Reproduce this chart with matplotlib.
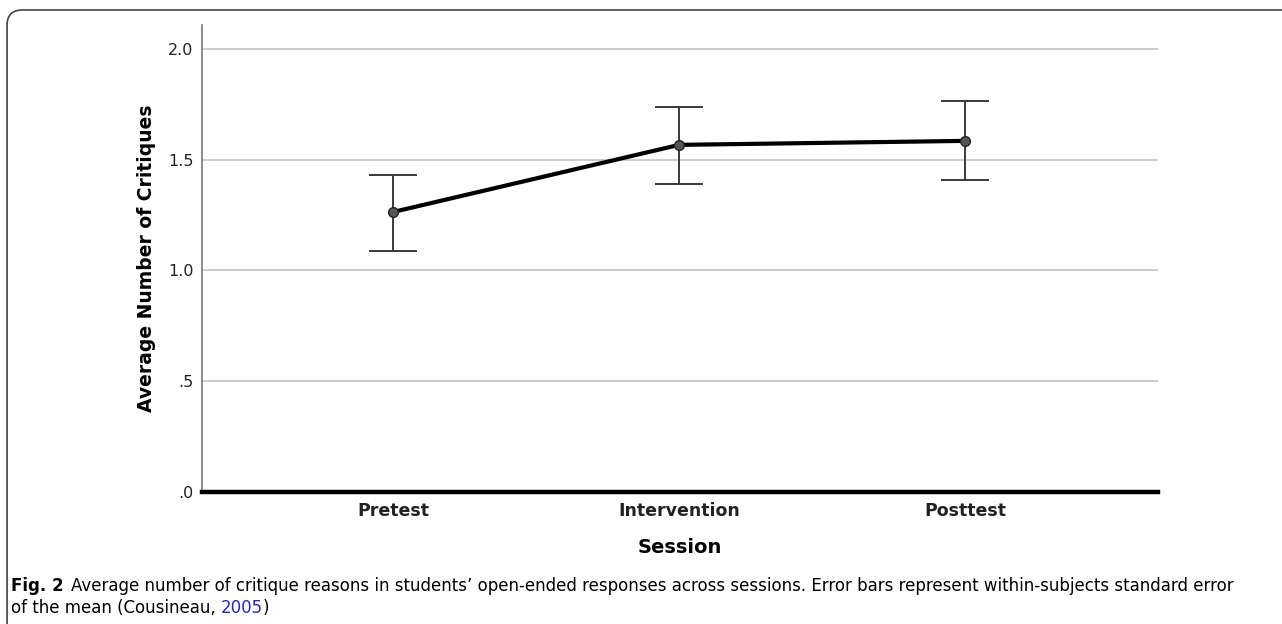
import matplotlib.pyplot as plt
from matplotlib.patches import FancyBboxPatch

sessions = ['Pretest', 'Intervention', 'Posttest']
means = [1.264, 1.567, 1.585]
upper = [1.43, 1.738, 1.765]
lower = [1.09, 1.39, 1.41]

err_lo = [m - l for m, l in zip(means, lower)]
err_hi = [u - m for m, u in zip(means, upper)]

fig = plt.figure(figsize=(12.82, 6.24), dpi=100)
ax = fig.add_axes([0.1576, 0.2115, 0.7457, 0.7484])

x = list(range(len(sessions)))
ax.errorbar(x, means, yerr=[err_lo, err_hi], fmt='none', ecolor='#3a3a3a',
            elinewidth=1.4, capsize=17, capthick=1.4, zorder=3)
ax.plot(x, means, color='black', lw=3, zorder=4)
ax.plot(x, means, 'o', ms=7, mfc='#555555', mec='#222222', mew=1, zorder=5)

ax.set_xlim(-0.668, 2.675)
ax.set_ylim(0, 2.108)
ax.set_yticks([0, 0.5, 1.0, 1.5, 2.0])
ax.set_yticklabels(['.0', '.5', '1.0', '1.5', '2.0'])
ax.set_xticks(x)
ax.set_xticklabels(sessions, fontsize=12.5, fontweight='bold', color='#222222')
ax.yaxis.grid(True, color='#c8c8c8', lw=1.3)
ax.set_axisbelow(True)
ax.tick_params(axis='y', length=0, pad=6, labelsize=11.5, labelcolor='#222222')
ax.tick_params(axis='x', length=0, pad=7)

for s in ['top', 'right']:
    ax.spines[s].set_visible(False)
ax.spines['left'].set_color('#777777')
ax.spines['left'].set_linewidth(1.2)
ax.spines['bottom'].set_color('black')
ax.spines['bottom'].set_linewidth(3.2)

ax.set_ylabel('Average Number of Critiques', fontsize=13.5, fontweight='bold', labelpad=9)
ax.set_xlabel('Session', fontsize=14, fontweight='bold', labelpad=13)

# rounded frame around the figure
frame = FancyBboxPatch((0.0055, -0.05), 1.05, 1.034, boxstyle='round,pad=0,rounding_size=0.012',
                       transform=fig.transFigure, fill=False, ec='#444444', lw=1.2,
                       mutation_aspect=1282 / 624)
fig.patches.append(frame)

# caption
fs = 12.0
W = fig.bbox.width
t1 = fig.text(0.0085, 0.061, 'Fig. 2', fontsize=fs, fontweight='bold', va='center')
t1b = fig.text(0, 0.061, 'Average number of critique reasons in students\u2019 open-ended responses across sessions. '
               'Error bars represent within-subjects standard error', fontsize=fs, va='center')
t2 = fig.text(0.0085, 0.026, 'of the mean (Cousineau, ', fontsize=fs, va='center')
t3 = fig.text(0, 0.026, '2005', fontsize=fs, color='#2222dd', va='center')
t4 = fig.text(0, 0.026, ')', fontsize=fs, va='center')

fig.canvas.draw()
r = fig.canvas.get_renderer()
t1b.set_position(((t1.get_window_extent(r).x1 + 7) / W, 0.061))
t3.set_position((t2.get_window_extent(r).x1 / W, 0.026))
t4.set_position((t3.get_window_extent(r).x1 / W, 0.026))

fig.savefig('out.png', dpi=100)
